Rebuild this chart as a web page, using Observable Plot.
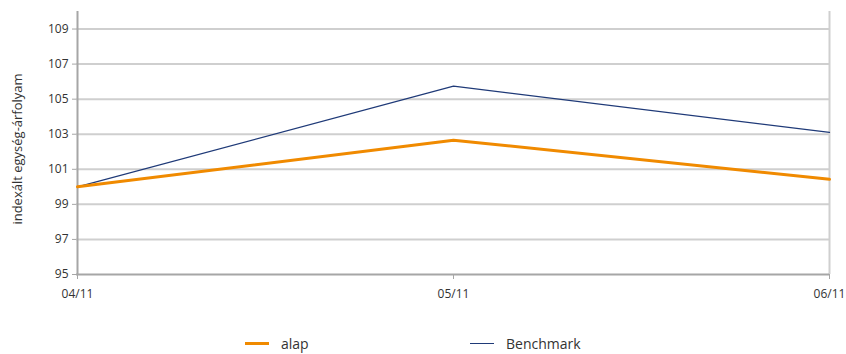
<!DOCTYPE html>
<html>
<head>
<meta charset="utf-8">
<script src="https://cdn.jsdelivr.net/npm/d3@7"></script>
<script src="https://cdn.jsdelivr.net/npm/@observablehq/plot@0.6"></script>
<style>
  html, body { margin: 0; padding: 0; background: #fff; }
  body { width: 846px; height: 354px; overflow: hidden; font-family: "Open Sans", sans-serif; }
  #legend { position: relative; height: 44px; font-size: 14px; color: #333; }
  .item { position: absolute; top: 24px; display: flex; align-items: center; }
  .sw { width: 24px; margin-right: 12px; }
</style>
</head>
<body>
<div id="chart"></div>
<div id="legend"></div>
<script>
const dates = ["04/11", "05/11", "06/11"];
const alap = [100.0, 102.66, 100.43];
const benchmark = [100.0, 105.74, 103.11];
const yTicks = [95, 97, 99, 101, 103, 105, 107, 109];
const seriesNames = ["alap", "Benchmark"];
const seriesColors = ["#f08a00", "#1f3a78"];

const rows = [];
dates.forEach((d, i) => {
  rows.push({date: d, value: alap[i], series: seriesNames[0]});
  rows.push({date: d, value: benchmark[i], series: seriesNames[1]});
});

const plot = Plot.plot({
  width: 846,
  height: 310,
  marginTop: 11,
  marginBottom: 36,
  marginLeft: 76,
  marginRight: 17,
  style: {fontFamily: "Open Sans, sans-serif", fontSize: "12px", color: "#333", background: "#fff"},
  x: {type: "point", domain: dates, padding: 0, label: null},
  y: {domain: [95, 110], ticks: yTicks, label: null},
  marks: [
    Plot.gridY(yTicks.filter(t => t > 95), {stroke: "#cfcfcf", strokeOpacity: 1, strokeWidth: 2}),
    Plot.ruleX([dates[dates.length - 1]], {stroke: "#cfcfcf", strokeWidth: 2}),
    Plot.ruleY([95], {stroke: "#a6a6a6", strokeWidth: 2}),
    Plot.ruleX([dates[0]], {stroke: "#a6a6a6", strokeWidth: 2}),
    Plot.axisY({ticks: yTicks, tickSize: 4, tickPadding: 4, stroke: "#a6a6a6", label: null, fontSize: 12}),
    Plot.axisX({tickSize: 5, tickPadding: 10, stroke: "#a6a6a6", label: null, fontSize: 12}),
    Plot.text(["indexált egység-árfolyam"], {frameAnchor: "left", textAnchor: "middle", dx: -59, dy: 6, rotate: -90, fontSize: 13, fill: "#333"}),
    Plot.line(rows.filter(r => r.series === seriesNames[1]), {x: "date", y: "value", stroke: seriesColors[1], strokeWidth: 1.2}),
    Plot.line(rows.filter(r => r.series === seriesNames[0]), {x: "date", y: "value", stroke: seriesColors[0], strokeWidth: 3})
  ]
});
document.getElementById("chart").appendChild(plot);

const legend = document.getElementById("legend");
const positions = [245, 470];
seriesNames.forEach((n, i) => {
  const it = document.createElement("div");
  it.className = "item";
  it.style.left = positions[i] + "px";
  const sw = document.createElement("div");
  sw.className = "sw";
  sw.style.borderTop = (i === 0 ? 3 : 1.5) + "px solid " + seriesColors[i];
  const t = document.createElement("span");
  t.textContent = n;
  it.appendChild(sw); it.appendChild(t);
  legend.appendChild(it);
});
</script>
</body>
</html>
